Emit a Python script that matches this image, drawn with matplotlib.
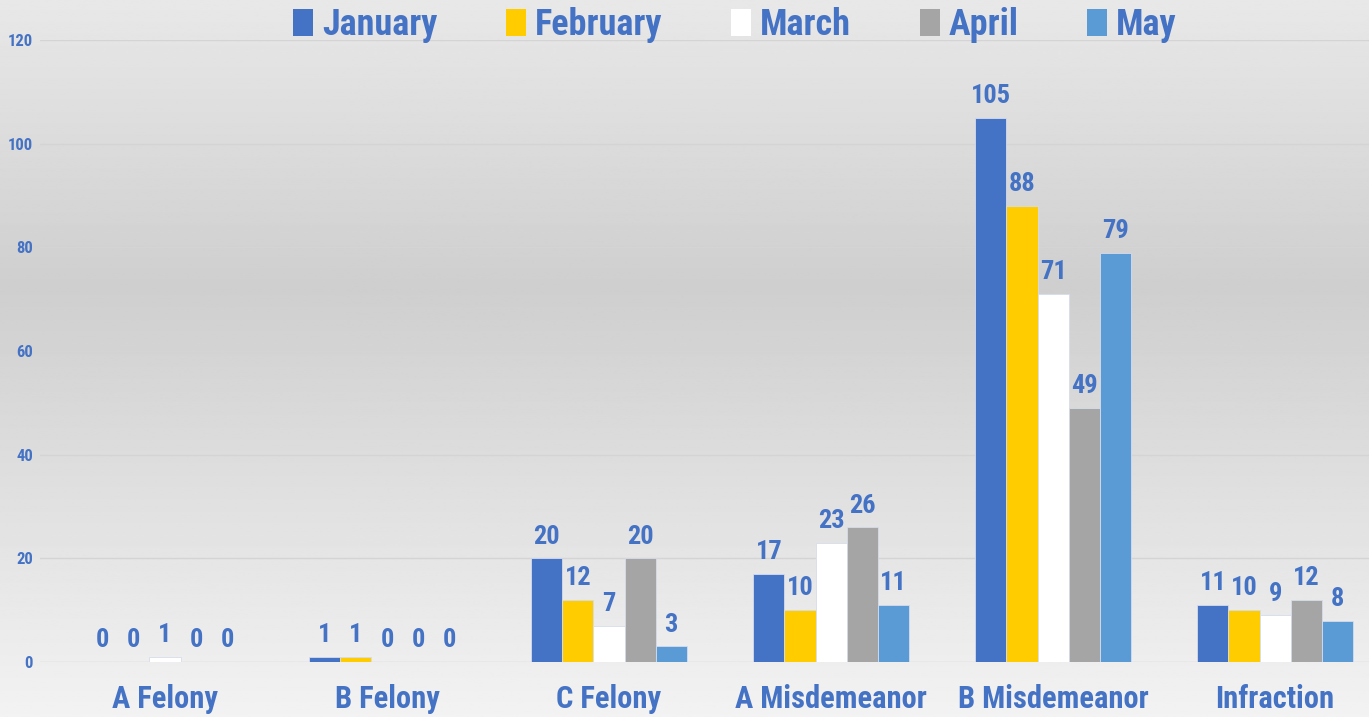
import numpy as np
import matplotlib
matplotlib.use("Agg")
import matplotlib.pyplot as plt
from matplotlib import font_manager
from matplotlib.patches import Patch

categories = ["A Felony", "B Felony", "C Felony", "A Misdemeanor", "B Misdemeanor", "Infraction"]
months = ["January", "February", "March", "April", "May"]
january = [0, 1, 20, 17, 105, 11]
february = [0, 1, 12, 10, 88, 10]
march = [1, 0, 7, 23, 71, 9]
april = [0, 0, 20, 26, 49, 12]
may = [0, 0, 3, 11, 79, 8]
yticks = [0, 20, 40, 60, 80, 100, 120]

colors = ["#4472C4", "#FFCC00", "#FFFFFF", "#A5A5A5", "#5B9BD5"]
text_color = "#4472C4"

# pick a narrow bold font if one is installed
names = {f.name for f in font_manager.fontManager.ttflist}
family = "DejaVu Sans"
for cand in ["Roboto Condensed", "Liberation Sans Narrow", "Open Sans Condensed"]:
    if cand in names:
        family = cand
        break
plt.rcParams["font.family"] = [family, "DejaVu Sans"]
plt.rcParams["font.weight"] = "bold"
plt.rcParams["font.stretch"] = "condensed"

fig = plt.figure(figsize=(13.69, 7.17), dpi=100)

# background gradient: light top, darker middle, light bottom
bg = fig.add_axes([0, 0, 1, 1], zorder=-10)
yy = np.linspace(0, 1, 400)
shade = np.interp(yy, [0, 0.4, 1.0], [0.91, 0.81, 0.95])
bg.imshow(np.tile(shade[:, None], (1, 2)), cmap="gray", vmin=0, vmax=1,
          aspect="auto", extent=[0, 1, 1, 0])
bg.axis("off")

ax = fig.add_axes([40 / 1369, 55 / 717, 1329 / 1369, 622 / 717])
ax.patch.set_alpha(0)

series = [january, february, march, april, may]
x = np.arange(len(categories))
w = 0.14
for i, (vals, c) in enumerate(zip(series, colors)):
    pos = x + (i - 2) * w
    bars = ax.bar(pos, vals, width=w, color=c, edgecolor="#d6dcec", linewidth=0.6, zorder=3)
    for b, v in zip(bars, vals):
        ax.annotate(str(v), (b.get_x() + b.get_width() / 2, v), xytext=(0, 7),
                    textcoords="offset points", ha="center", va="bottom",
                    fontsize=19, color=text_color, fontweight="bold")

ax.set_xlim(-0.563, 5.423)
ax.set_ylim(0, 120)
ax.set_yticks(yticks)
ax.set_xticks(x)
ax.set_xticklabels(categories, fontsize=22, color=text_color, fontweight="bold", va="top")
ax.tick_params(axis="x", length=0, pad=16)
ax.tick_params(axis="y", length=0, pad=5, labelsize=12, labelcolor=text_color)
ax.grid(axis="y", color="#d4d4d4", linewidth=1, zorder=0)
for s in ax.spines.values():
    s.set_visible(False)

handles = [Patch(facecolor=c, edgecolor="none") for c in colors]
fig.legend(handles, months, loc="center", bbox_to_anchor=(0.537, 0.965), ncol=5,
           frameon=False, fontsize=26, labelcolor=text_color, handlelength=0.55,
           handleheight=0.75, handletextpad=0.25, columnspacing=1.9)

fig.savefig("out.png", dpi=100)
